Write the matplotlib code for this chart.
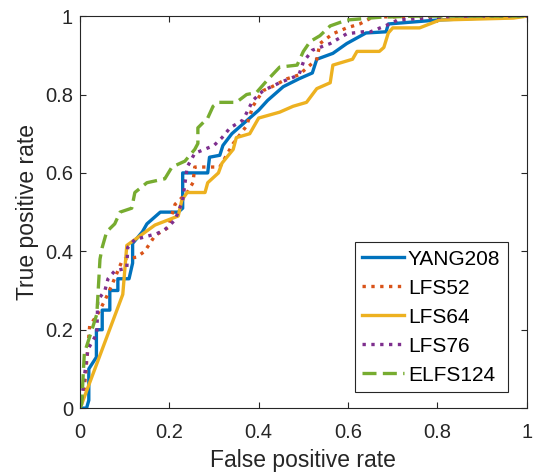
import numpy as np
import matplotlib.pyplot as plt

plt.rcParams['font.family'] = ['Liberation Sans', 'DejaVu Sans']

# ROC curves (fpr, tpr)
yang208_fpr = [0, 0.015, 0.02, 0.02, 0.037, 0.037, 0.05, 0.05, 0.067, 0.067, 0.085, 0.085, 0.11,
               0.118, 0.118, 0.14, 0.15, 0.18, 0.22, 0.23, 0.23, 0.286, 0.29, 0.313, 0.32, 0.34,
               0.36, 0.38, 0.40, 0.42, 0.455, 0.49, 0.52, 0.53, 0.566, 0.597, 0.64, 0.685, 0.69,
               0.80, 1.0]
yang208_tpr = [0, 0, 0.02, 0.10, 0.13, 0.20, 0.20, 0.25, 0.25, 0.30, 0.30, 0.33, 0.33,
               0.37, 0.42, 0.45, 0.47, 0.50, 0.50, 0.51, 0.60, 0.60, 0.64, 0.645, 0.67, 0.70,
               0.72, 0.74, 0.76, 0.785, 0.82, 0.84, 0.855, 0.89, 0.905, 0.93, 0.957, 0.96, 0.98,
               0.99, 1.0]

lfs52_fpr = [0, 0.01, 0.018, 0.022, 0.04, 0.056, 0.07, 0.085, 0.096, 0.127, 0.145, 0.168, 0.197,
             0.213, 0.24, 0.253, 0.257, 0.30, 0.313, 0.343, 0.373, 0.387, 0.41, 0.43, 0.463, 0.49,
             0.53, 0.537, 0.566, 0.597, 0.626, 0.656, 1.0]
lfs52_tpr = [0, 0.05, 0.155, 0.21, 0.24, 0.275, 0.31, 0.35, 0.38, 0.385, 0.40, 0.44, 0.46,
             0.52, 0.55, 0.575, 0.615, 0.615, 0.615, 0.675, 0.72, 0.77, 0.81, 0.82, 0.84, 0.85,
             0.89, 0.93, 0.955, 0.97, 0.98, 0.998, 1.0]

lfs64_fpr = [0, 0.004, 0.096, 0.105, 0.168, 0.22, 0.228, 0.24, 0.28, 0.286, 0.31, 0.318, 0.343,
             0.35, 0.38, 0.40, 0.447, 0.477, 0.507, 0.53, 0.56, 0.566, 0.61, 0.62, 0.67, 0.68,
             0.69, 0.70, 0.76, 0.805, 0.97, 1.0]
lfs64_tpr = [0, 0.01, 0.29, 0.415, 0.467, 0.49, 0.53, 0.55, 0.55, 0.575, 0.60, 0.625, 0.66,
             0.69, 0.70, 0.74, 0.755, 0.77, 0.78, 0.815, 0.83, 0.875, 0.89, 0.91, 0.91, 0.92,
             0.957, 0.97, 0.97, 0.99, 0.995, 1.0]

lfs76_fpr = [0, 0.004, 0.01, 0.018, 0.038, 0.04, 0.056, 0.063, 0.078, 0.105, 0.107, 0.123, 0.172,
             0.19, 0.213, 0.23, 0.24, 0.257, 0.30, 0.318, 0.336, 0.365, 0.387, 0.41, 0.447, 0.49,
             0.50, 0.52, 0.56, 0.597, 0.633, 0.65, 0.70, 0.71, 0.84, 1.0]
lfs76_tpr = [0, 0.02, 0.08, 0.15, 0.19, 0.275, 0.30, 0.33, 0.35, 0.357, 0.41, 0.43, 0.445,
             0.455, 0.48, 0.53, 0.615, 0.65, 0.67, 0.69, 0.715, 0.735, 0.785, 0.81, 0.83, 0.85,
             0.883, 0.913, 0.93, 0.955, 0.96, 0.96, 0.983, 0.99, 1.0, 1.0]

elfs124_fpr = [0, 0.004, 0.01, 0.027, 0.038, 0.045, 0.05, 0.06, 0.078, 0.09, 0.116, 0.123, 0.15,
               0.19, 0.206, 0.235, 0.257, 0.264, 0.264, 0.286, 0.298, 0.31, 0.35, 0.373, 0.395,
               0.418, 0.447, 0.486, 0.50, 0.515, 0.537, 0.56, 0.597, 0.67, 0.75, 1.0]
elfs124_tpr = [0, 0.01, 0.14, 0.20, 0.24, 0.38, 0.41, 0.45, 0.47, 0.50, 0.51, 0.55, 0.575,
               0.585, 0.615, 0.63, 0.66, 0.675, 0.715, 0.74, 0.77, 0.78, 0.78, 0.80, 0.805,
               0.835, 0.87, 0.875, 0.91, 0.935, 0.95, 0.975, 0.99, 0.997, 1.0, 1.0]

fig = plt.figure(figsize=(5.36, 4.74), dpi=100)
ax = fig.add_axes([0.149, 0.139, 0.834, 0.827])

lw = 2.4
ax.plot(yang208_fpr, yang208_tpr, '-', color='#0072BD', lw=lw, label='YANG208')
ax.plot(lfs52_fpr, lfs52_tpr, ':', color='#D95319', lw=lw, label='LFS52')
ax.plot(lfs64_fpr, lfs64_tpr, '-', color='#EDB120', lw=lw, label='LFS64')
ax.plot(lfs76_fpr, lfs76_tpr, ':', color='#7E2F8E', lw=lw, label='LFS76')
ax.plot(elfs124_fpr, elfs124_tpr, '--', color='#77AC30', lw=lw, dashes=(4.2, 1.9), label='ELFS124')

ax.set_xlim(0, 1)
ax.set_ylim(0, 1)
ax.set_xticks(np.arange(0, 1.01, 0.2))
ax.set_yticks(np.arange(0, 1.01, 0.2))
ax.set_xticklabels(['0', '0.2', '0.4', '0.6', '0.8', '1'])
ax.set_yticklabels(['0', '0.2', '0.4', '0.6', '0.8', '1'])
ax.tick_params(direction='in', top=True, right=True, labelsize=14.5, colors='#262626',
               length=4, pad=5)
ax.tick_params(axis='x', pad=11)
for s in ax.spines.values():
    s.set_color('#262626')
    s.set_linewidth(0.8)

ax.set_xlabel('False positive rate', fontsize=16.5, color='#262626', labelpad=5)
ax.set_ylabel('True positive rate', fontsize=16.5, color='#262626', labelpad=4)

leg = ax.legend(loc='lower right', bbox_to_anchor=(0.957, 0.041), fontsize=15,
                handlelength=2.0, fancybox=False, framealpha=1, borderpad=0.35,
                labelspacing=0.48, handletextpad=0.2, borderaxespad=0)
leg.get_frame().set_edgecolor('#262626')
leg.get_frame().set_linewidth(0.8)

plt.savefig('out.png', dpi=100)
